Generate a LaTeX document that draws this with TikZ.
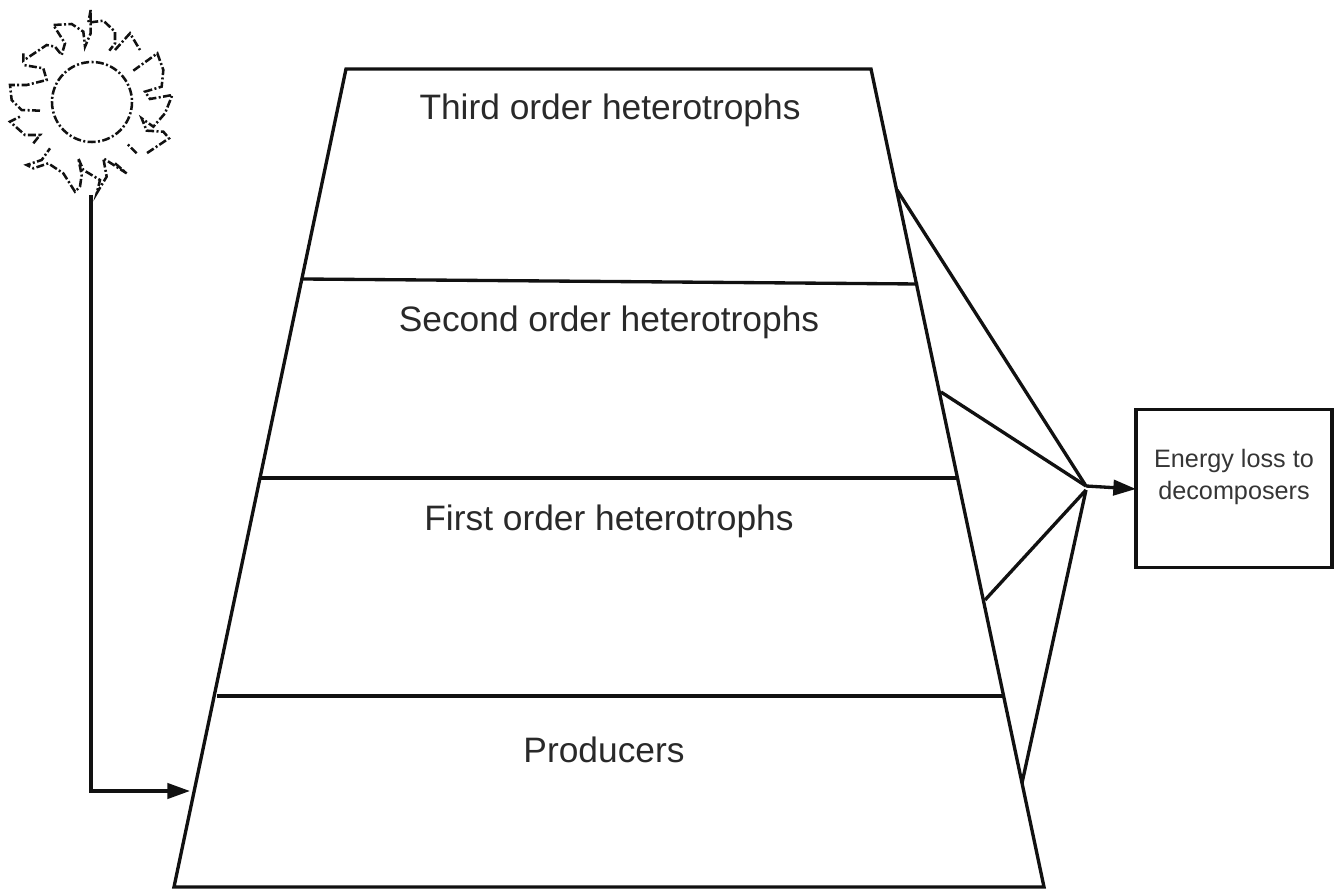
\documentclass[tikz,border=0pt]{standalone}
\usepackage{fontspec}
\setmainfont{Liberation Sans}
\usetikzlibrary{arrows.meta}
\definecolor{ink}{HTML}{111111}
\tikzset{
  line/.style={draw=ink,line width=2.5pt},
  flow/.style={line,-{Triangle[length=17pt,width=11.5pt]}},
  sunline/.style={draw=ink,line width=1.9pt,dash pattern=on 6pt off 1.8pt on 1.5pt off 1.8pt},
  level/.style={font=\fontsize{26.5pt}{30pt}\selectfont,text=ink!90,inner sep=0pt,anchor=center},
  lossbox/.style={line,minimum width=147pt,minimum height=118pt,inner sep=0pt},
  losstext/.style={font=\fontsize{18.9pt}{24pt}\selectfont,text=ink!85,align=center,inner sep=0pt}
}
\begin{document}
\begin{tikzpicture}[x=0.75pt,y=-0.75pt]
\useasboundingbox (0,0) rectangle (1336,891);
% pyramid
\coordinate (tl) at (346,69);
\coordinate (tr) at (871,69);
\coordinate (br) at (1044,887);
\coordinate (bl) at (174,887);
\draw[line] (tl) -- (tr) -- (br) -- (bl) -- cycle;
\coordinate (a1) at (303,279); \coordinate (a2) at (918,284);
\coordinate (b1) at (260,478); \coordinate (b2) at (958,478);
\coordinate (c1) at (217,696); \coordinate (c2) at (1005,696);
\draw[line] (a1) -- (a2);
\draw[line] (b1) -- (b2);
\draw[line] (c1) -- (c2);
\node[level] (third) at (610,110) {Third order heterotrophs};
\node[level] (second) at (609,322) {Second order heterotrophs};
\node[level] (first) at (609,521) {First order heterotrophs};
\node[level] (prod) at (604,750) {Producers};
% loss
\node[lossbox,draw] (loss) at (1234,488.5) {};
\node[losstext] (losslabel) at (1234,476.5) {Energy loss to\\decomposers};
\coordinate (hub) at (1086,486);
\coordinate (hub2) at (1086,490);
\coordinate (s3) at (897,190);
\coordinate (s2) at (941,392);
\coordinate (s1) at (985,600);
\coordinate (s0) at (1022,783);
\draw[line] (s3) -- (hub);
\draw[line] (s2) -- (hub);
\draw[line] (s1) -- (hub2);
\draw[line] (s0) -- (hub2);
\coordinate (lossin) at (1136,489);
\draw[flow] (hub) -- (lossin);
% sun
\node[draw=none,circle,minimum size=60pt,inner sep=0pt] (sun) at (92,102) {};
\draw[sunline] (sun) circle[radius=40];
\draw[sunline,x=0.25pt,y=-0.25pt]
 (272,30) -- (265,68) -- (310,62) -- (345,95) -- (345,130) -- (328,152)
 (345,150) -- (390,100) -- (420,150)
 (400,212) -- (472,160) -- (490,210) -- (485,260) -- (435,275) -- (450,297) -- (517,285) -- (495,340) -- (460,380) -- (425,355) -- (440,392) -- (490,395) -- (507,415) -- (440,460)
 (410,460) -- (380,430)
 (345,490) -- (380,520) -- (310,475) -- (320,530) -- (290,580) -- (300,540) -- (250,510) -- (235,475) -- (245,525) -- (240,560) -- (225,575) -- (190,520) -- (145,490) -- (100,505) -- (80,495) -- (125,480) -- (150,445)
 (100,430) -- (120,405) -- (75,405) -- (30,365) -- (60,350)
 (120,332) -- (65,330) -- (35,300) -- (30,255) -- (80,255) -- (140,240) -- (130,205) -- (70,195)
 (70,160) -- (70,182) -- (140,135) -- (165,140) -- (185,165) -- (195,130) -- (160,75) -- (215,72) -- (250,95) -- (255,140) -- (272,100) -- (272,30);
% sun arrow
\coordinate (sunfoot) at (91,195);
\coordinate (bend) at (91,791);
\coordinate (pin) at (190,791);
\draw[flow] (sunfoot) -- (bend) -- (pin);
\end{tikzpicture}
\end{document}
